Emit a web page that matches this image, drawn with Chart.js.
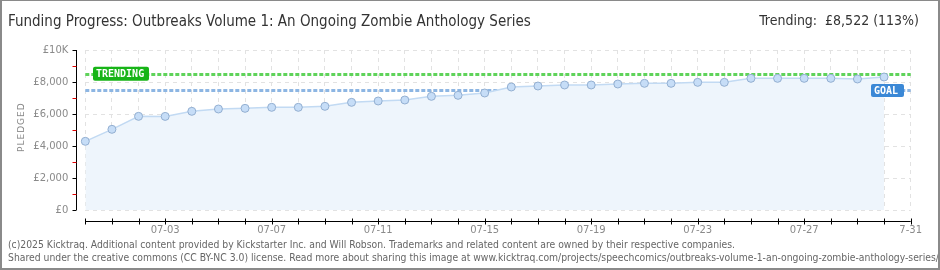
<!DOCTYPE html>
<html>
<head>
<meta charset="utf-8">
<script src="https://cdn.jsdelivr.net/npm/chart.js@4/dist/chart.umd.min.js"></script>
<style>
  html,body{margin:0;padding:0;background:#fff;}
  #wrap{position:relative;width:940px;height:270px;overflow:hidden;background:#fff;}
  #c{position:absolute;left:0;top:0;}
  .t{position:absolute;white-space:nowrap;font-family:"DejaVu Sans Condensed","DejaVu Sans",sans-serif;color:#333;}
  #title{left:8px;top:12px;font-size:15px;}
  #trend{right:21px;top:12px;font-size:14px;}
  .foot{left:8px;font-family:"DejaVu Sans Condensed","DejaVu Sans",sans-serif;font-size:10.3px;color:#666;}
  #f1{top:238px;}
  #f2{top:251px;}
  #ylab{left:16px;top:124px;font-family:"DejaVu Sans",sans-serif;font-size:9px;color:#888;letter-spacing:1px;transform-origin:0 0;transform:rotate(-90deg) translate(-28px,0);}
  #border{position:absolute;left:0;top:0;width:940px;height:270px;box-sizing:border-box;border-style:solid;border-color:#8a8a8a;border-width:1px 2px 2px 2px;pointer-events:none;}
</style>
</head>
<body>
<div id="wrap">
  <canvas id="c" width="940" height="270"></canvas>
  <div class="t" id="title">Funding Progress: Outbreaks Volume 1: An Ongoing Zombie Anthology Series</div>
  <div class="t" id="trend">Trending:&nbsp; £8,522 (113%)</div>
  <div class="t" id="ylab">PLEDGED</div>
  <div class="t foot" id="f1">(c)2025 Kicktraq. Additional content provided by Kickstarter Inc. and Will Robson. Trademarks and related content are owned by their respective companies.</div>
  <div class="t foot" id="f2">Shared under the creative commons (CC BY-NC 3.0) license. Read more about sharing this image at www.kicktraq.com/projects/speechcomics/outbreaks-volume-1-an-ongoing-zombie-anthology-series/</div>
  <div id="border"></div>
</div>
<script>
// ---- data ----
const categories = ['06-30','07-01','07-02','07-03','07-04','07-05','07-06','07-07','07-08','07-09','07-10','07-11','07-12','07-13','07-14','07-15','07-16','07-17','07-18','07-19','07-20','07-21','07-22','07-23','07-24','07-25','07-26','07-27','07-28','07-29','07-30','07-31'];
const pledged = [4292,5042,5854,5850,6167,6313,6354,6417,6417,6479,6729,6813,6875,7104,7167,7313,7688,7750,7813,7813,7875,7917,7917,7979,7979,8229,8229,8229,8229,8188,8313];
const xTickLabels = ['07-03','07-07','07-11','07-15','07-19','07-23','07-27','7-31'];
const yTickValues = [0,2000,4000,6000,8000,10000];
const yTickLabels = ['£0','£2,000','£4,000','£6,000','£8,000','£10K'];
const goal = 7500;
const trending = 8522;

const overlay = {
  id: 'overlay',
  beforeDatasetsDraw(chart) {
    const ctx = chart.ctx, ca = chart.chartArea, y = chart.scales.y;
    ctx.save();
    const lines = [[trending, '#5fd35a'], [goal, '#8db6e3']];
    lines.forEach(([v, col]) => {
      const py = Math.round(y.getPixelForValue(v)) + 0.5;
      ctx.strokeStyle = col;
      ctx.lineWidth = 3;
      ctx.setLineDash([4, 2]);
      ctx.beginPath();
      ctx.moveTo(ca.left, py);
      ctx.lineTo(ca.right, py);
      ctx.stroke();
    });
    ctx.restore();
  },
  afterDatasetsDraw(chart) {
    const ctx = chart.ctx, ca = chart.chartArea, y = chart.scales.y, x = chart.scales.x;
    ctx.save();
    ctx.setLineDash([]);
    // y axis
    const ax = 76.5;
    ctx.strokeStyle = '#000';
    ctx.lineWidth = 1;
    ctx.beginPath();
    ctx.moveTo(ax, ca.top);
    ctx.lineTo(ax, ca.bottom);
    ctx.stroke();
    for (let v = 0; v <= 10000; v += 1000) {
      const py = Math.round(y.getPixelForValue(v)) + 0.5;
      ctx.strokeStyle = (v % 2000 === 0) ? '#000' : '#e00000';
      ctx.beginPath();
      ctx.moveTo(ax - 4, py);
      ctx.lineTo(ax, py);
      ctx.stroke();
    }
    // x axis
    const ay = 221.5;
    ctx.strokeStyle = '#000';
    ctx.beginPath();
    ctx.moveTo(ca.left, ay);
    ctx.lineTo(ca.right, ay);
    ctx.stroke();
    for (let i = 0; i < categories.length; i++) {
      const px = Math.round(x.getPixelForValue(i)) + 0.5;
      ctx.beginPath();
      ctx.moveTo(px, ay - 3);
      ctx.lineTo(px, ay + 3);
      ctx.stroke();
    }
    // label boxes
    function box(bx, cy, w, h, fill, text) {
      const by = cy - h / 2;
      ctx.fillStyle = fill;
      ctx.beginPath();
      ctx.roundRect(bx, by, w, h, 2);
      ctx.fill();
      ctx.fillStyle = '#fff';
      ctx.font = 'bold 10px "DejaVu Sans Mono", monospace';
      ctx.textBaseline = 'middle';
      ctx.textAlign = 'left';
      ctx.fillText(text, bx + 3, cy + 0.5);
    }
    box(93, y.getPixelForValue(trending), 56, 14, '#17b417', 'TRENDING');
    box(871, y.getPixelForValue(goal) + 0.5, 33, 13, '#3b88d6', 'GOAL');
    ctx.restore();
  }
};

new Chart(document.getElementById('c'), {
  type: 'line',
  data: {
    labels: categories,
    datasets: [{
      data: pledged,
      borderColor: '#c2daf3',
      borderWidth: 1.5,
      backgroundColor: '#eef5fc',
      fill: 'origin',
      tension: 0,
      pointRadius: 4,
      pointBorderWidth: 1,
      pointBackgroundColor: '#c6ddf7',
      pointBorderColor: '#93afd1'
    }]
  },
  options: {
    responsive: false,
    animation: false,
    events: [],
    layout: { padding: { left: 0, right: 29.3, top: 50, bottom: 30 } },
    plugins: { legend: { display: false }, tooltip: { enabled: false } },
    scales: {
      x: {
        type: 'category',
        offset: false,
        afterFit(s) { s.height = 30; },
        grid: { color: '#e2e2e2', drawTicks: false, lineWidth: 1 },
        border: { display: false, dash: [4, 4] },
        ticks: {
          autoSkip: false, maxRotation: 0, padding: 14,
          color: '#8a8a8a',
          font: { family: 'DejaVu Sans', size: 10 },
          callback: (v, i) => (i % 4 === 3 ? xTickLabels[(i - 3) / 4] : '')
        }
      },
      y: {
        min: 0, max: 10000,
        afterFit(s) { s.width = 85.3; },
        afterBuildTicks(s) { s.ticks = yTickValues.map(v => ({ value: v })); },
        grid: { color: '#e2e2e2', drawTicks: false, lineWidth: 1 },
        border: { display: false, dash: [4, 4] },
        ticks: {
          padding: 17,
          color: '#8a8a8a',
          font: { family: 'DejaVu Sans', size: 10 },
          callback: (v) => yTickLabels[yTickValues.indexOf(v)]
        }
      }
    }
  },
  plugins: [overlay]
});
</script>
</body>
</html>
